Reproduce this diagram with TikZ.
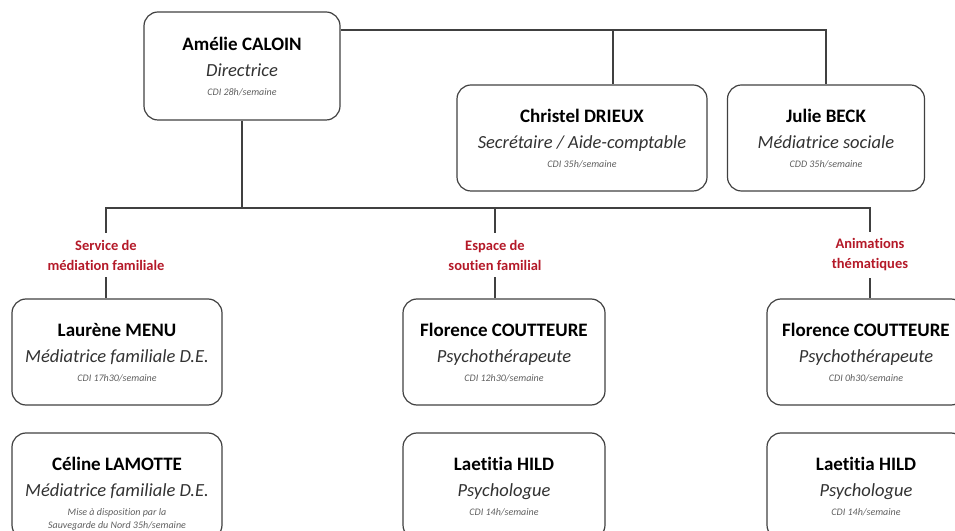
\documentclass[tikz,border=0pt]{standalone}
\usepackage{fontspec}
\setmainfont{Carlito}[Ligatures=NoCommon]
\usepackage{tikz}
\usetikzlibrary{calc}

\definecolor{ligne}{RGB}{64,64,64}
\definecolor{rouge}{RGB}{180,25,40}
\definecolor{grisrole}{RGB}{50,50,50}
\definecolor{grispetit}{RGB}{95,95,95}

\newcommand{\fiche}[3]{{\fontsize{19}{24}\selectfont\bfseries #1}\\[2pt]{\fontsize{18.5}{24}\selectfont\itshape\color{grisrole} #2}\\[-5pt]{\fontsize{10}{13}\selectfont\itshape\color{grispetit}\raisebox{0pt}[\height][0pt]{\begin{tabular}[t]{@{}c@{}}#3\end{tabular}}}}

\begin{document}
\begin{tikzpicture}[x=1pt,y=1pt,
	box/.style={draw=ligne, line width=1.2pt, rounded corners=14pt, minimum height=106pt, inner sep=0pt, align=center, font=\fontsize{10}{24}\selectfont},
	pole/.style={text=rouge, align=center, inner sep=7pt, font=\fontsize{14.5}{20}\selectfont\bfseries},
	link/.style={ligne, line width=1.2pt}]

	\clip (0,0) rectangle (955,530);

	\node (amelie)[box, minimum width=196pt, minimum height=108pt] at (242,464){\fiche{Amélie CALOIN}{Directrice}{CDI 28h/semaine}};
	\node (christel)[box, minimum width=250pt] at (582,392){\fiche{Christel DRIEUX}{Secrétaire / Aide-comptable}{CDI 35h/semaine}};
	\node (julie)[box, minimum width=197pt] at (826,392){\fiche{Julie BECK}{Médiatrice sociale}{CDD 35h/semaine}};

	\node (pole1)[pole] at (106,275){Service de\\médiation familiale};
	\node (pole2)[pole] at (495,275){Espace de\\soutien familial};
	\node (pole3)[pole] at (870,275){Animations\\thématiques};

	\node (laurene)[box, minimum width=210pt] at (117,178){\fiche{Laurène MENU}{Médiatrice familiale D.E.}{CDI 17h30/semaine}};
	\node (florence1)[box, minimum width=202pt] at (504,178){\fiche{Florence COUTTEURE}{Psychothérapeute}{CDI 12h30/semaine}};
	\node (florence2)[box, minimum width=198pt] at (866,178){\fiche{Florence COUTTEURE}{Psychothérapeute}{CDI 0h30/semaine}};

	\node (celine)[box, minimum width=210pt] at (117,44){\fiche{Céline LAMOTTE}{Médiatrice familiale D.E.}{Mise à disposition par la\\Sauvegarde du Nord 35h/semaine}};
	\node (laetitia1)[box, minimum width=202pt] at (504,44){\fiche{Laetitia HILD}{Psychologue}{CDI 14h/semaine}};
	\node (laetitia2)[box, minimum width=198pt] at (866,44){\fiche{Laetitia HILD}{Psychologue}{CDI 14h/semaine}};

	\coordinate (haut) at (0,500);
	\coordinate (secr) at (613,500);
	\coordinate (bas) at (0,322);

	\draw [link] (amelie.east |- haut) -| (julie.north);
	\draw [link] (secr) -- (secr |- christel.north);

	\draw [link] (amelie.south) -- (amelie.south |- bas);
	\draw [link] (pole1.north) -- (pole1.north |- bas) -- (pole3.north |- bas) -- (pole3.north);
	\draw [link] (pole2.north |- bas) -- (pole2.north);

	\draw [link] (pole1.south) -- (pole1.south |- laurene.north);
	\draw [link] (pole2.south) -- (pole2.south |- florence1.north);
	\draw [link] (pole3.south) -- (pole3.south |- florence2.north);

\end{tikzpicture}
\end{document}
